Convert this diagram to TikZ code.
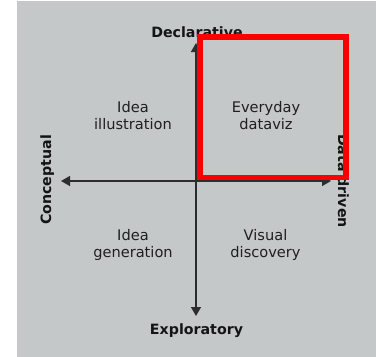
\documentclass[tikz,border=0pt]{standalone}
\usepackage{fontspec}
\setsansfont{DejaVu Sans}
\definecolor{chartgrey}{RGB}{197,200,201}
\definecolor{axisgrey}{RGB}{45,45,45}
\definecolor{markred}{RGB}{250,0,0}
\tikzset{every picture/.style={/utils/exec={\sffamily}}}
\usetikzlibrary{arrows.meta}

\begin{document}
\begin{tikzpicture}[x=1bp, y=-1bp,
    quadrant/.style={align=center, inner sep=0pt, text=black!88,
      font=\fontsize{14.6bp}{17bp}\selectfont},
    pole/.style={inner sep=0pt, anchor=base, text=black!92,
      font=\fontsize{14.2bp}{17bp}\selectfont\bfseries},
    axis/.style={axisgrey, line width=1.4bp, -{Triangle[length=9bp, width=10bp]}}]
  \useasboundingbox (0,0) rectangle (376,357);
  \fill [chartgrey] (17,1) rectangle (376,357);

  % axes
  \coordinate (o) at (196,181);
  \coordinate (up) at (196,43);
  \coordinate (down) at (196,316);
  \coordinate (left) at (61,181);
  \coordinate (right) at (331,181);
  \draw [axis] (o) -- (up);
  \draw [axis] (o) -- (down);
  \draw [axis] (o) -- (left);
  \draw [axis] (o) -- (right);

  % poles
  \node [pole] (decl) at (197,37.5) {Declarative};
  \node [pole] (expl) at (196.5,334) {Exploratory};
  \node [pole, rotate=90] (conc) at (51,180) {Conceptual};
  \node [pole, rotate=-90] (data) at (338,181) {Data driven};

  % quadrants
  \node [quadrant] (illu) at (133,116) {Idea\\illustration};
  \node [quadrant] (every) at (266,116) {Everyday\\dataviz};
  \node [quadrant] (gen) at (133,244.7) {Idea\\generation};
  \node [quadrant] (visual) at (265.5,244.7) {Visual\\discovery};

  % highlight:
  \draw [markred, line width=5.5bp] (200,37) rectangle (346,177.5);
\end{tikzpicture}
\end{document}
